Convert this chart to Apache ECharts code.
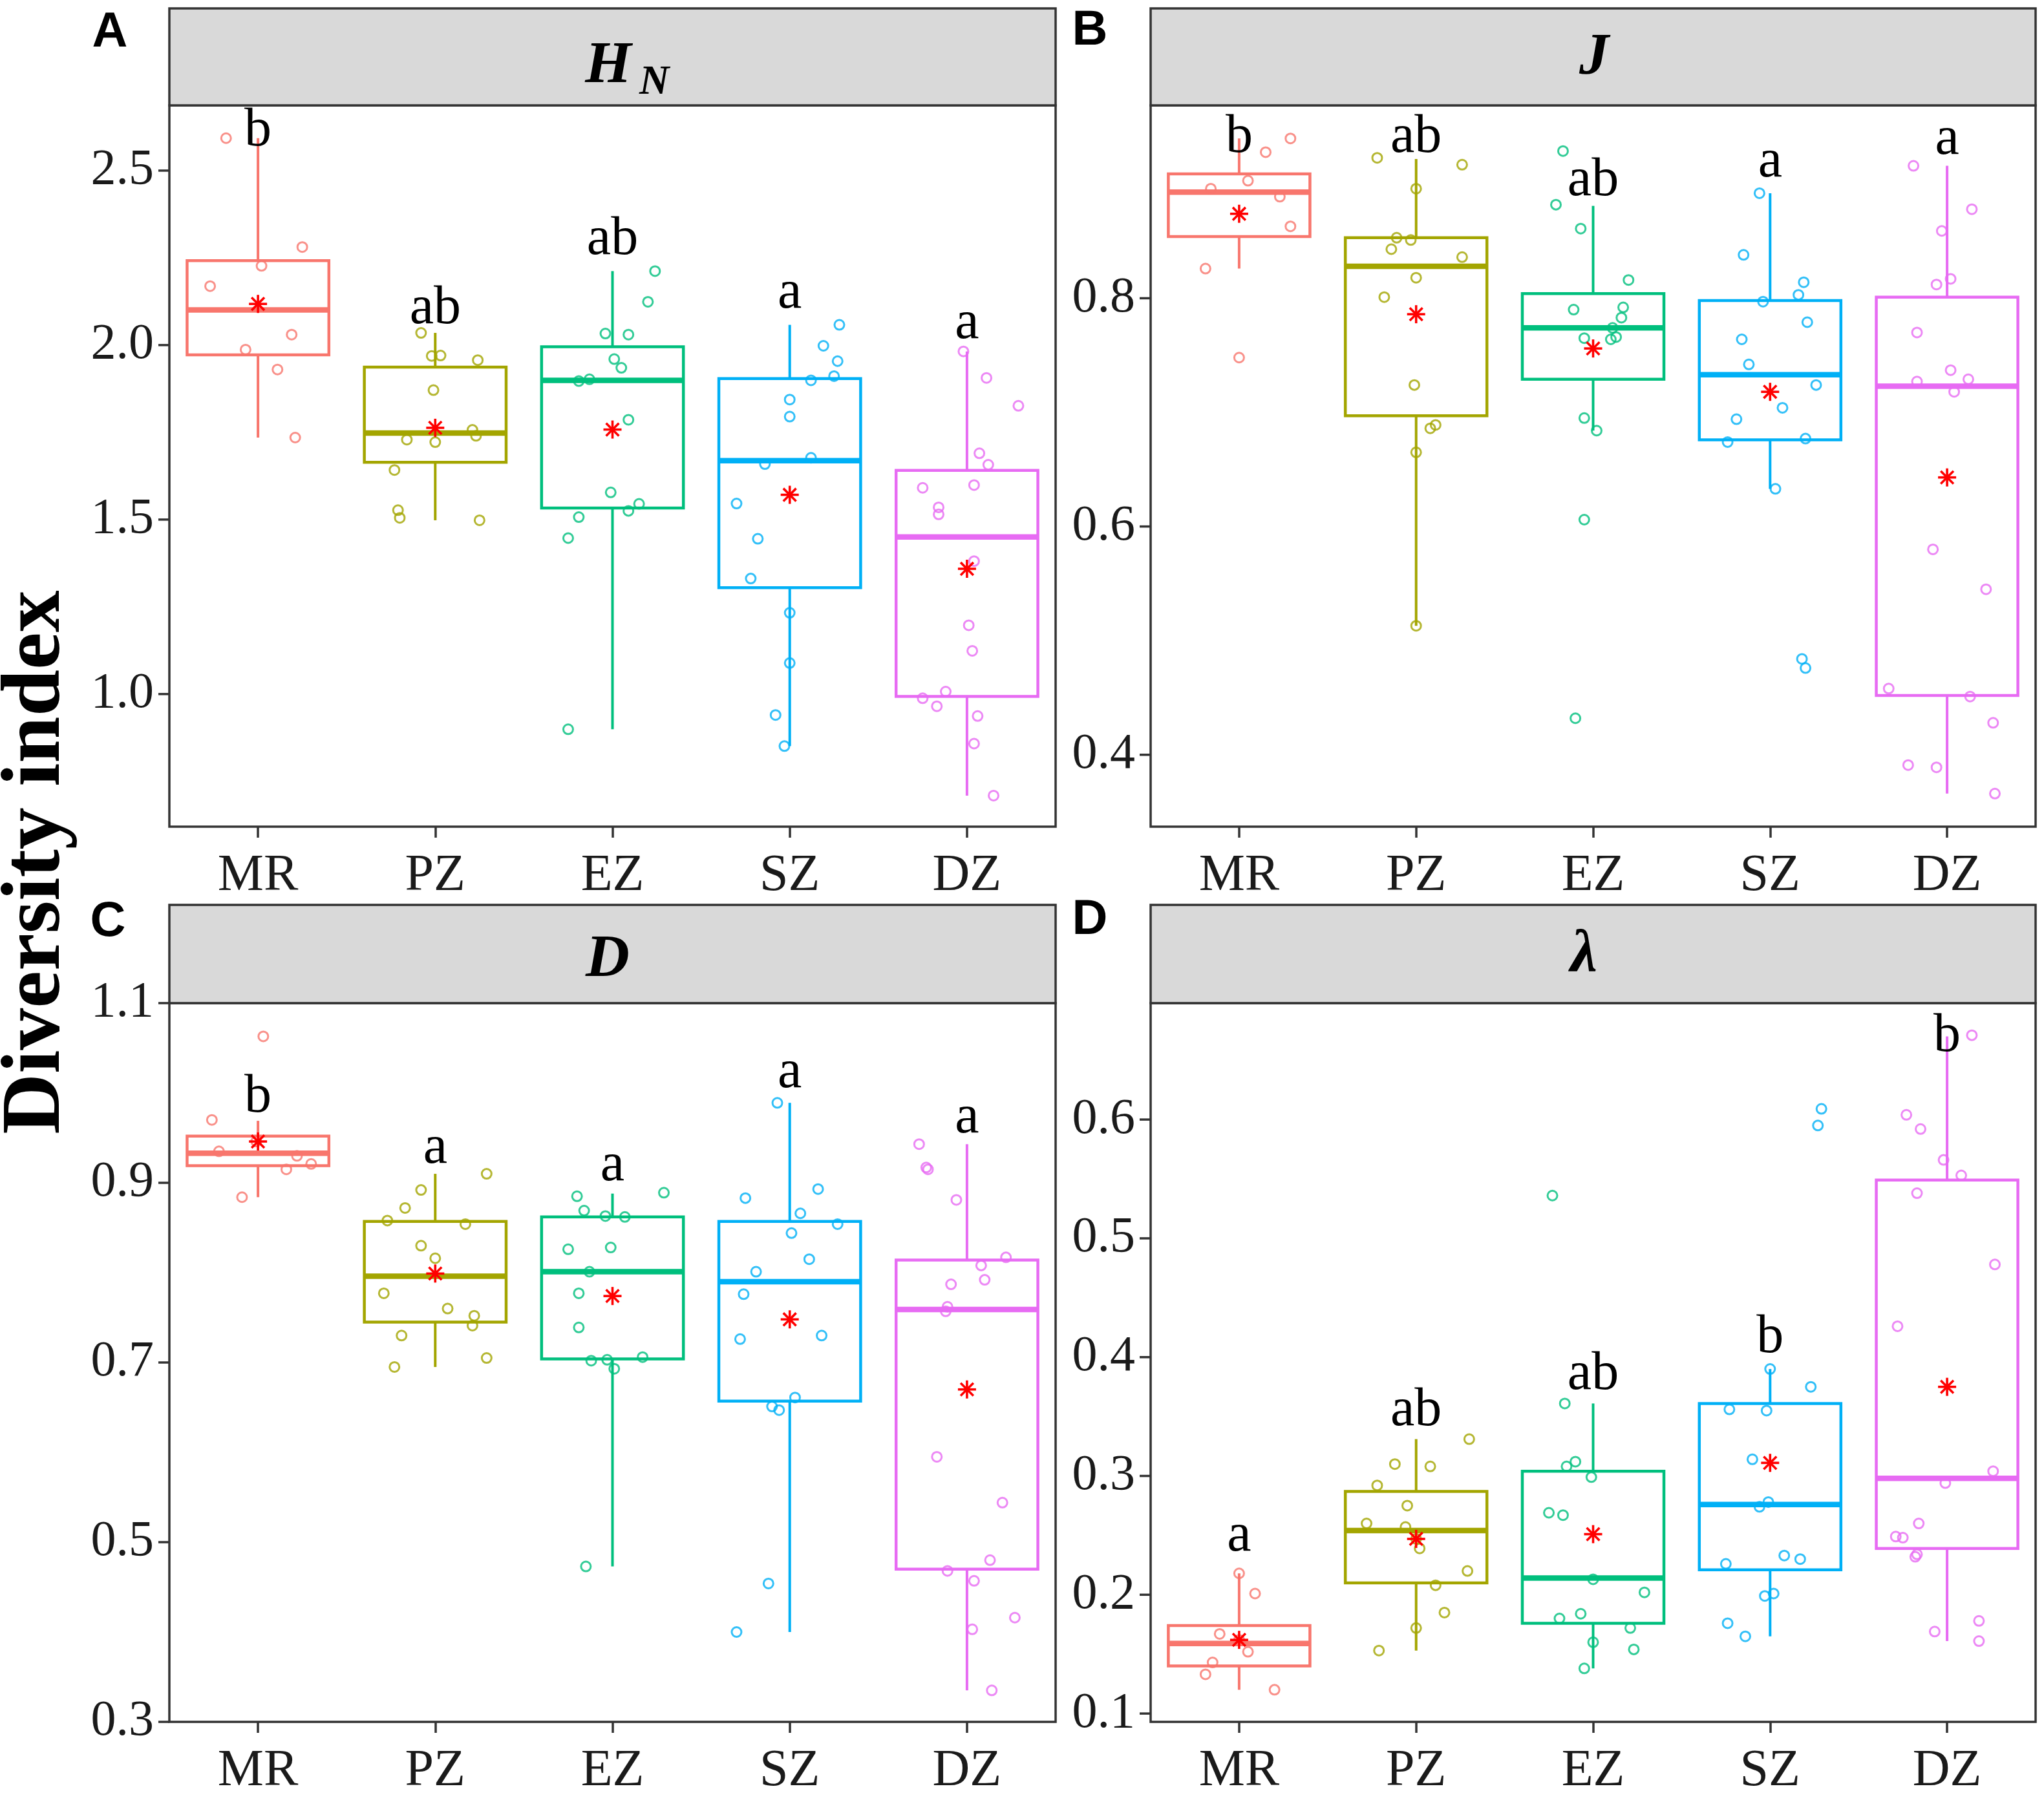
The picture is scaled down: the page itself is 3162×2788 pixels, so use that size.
<!DOCTYPE html>
<html><head><meta charset="utf-8">
<script src="https://cdn.jsdelivr.net/npm/echarts@6/dist/echarts.min.js"></script>
<style>html,body{margin:0;padding:0;background:#fff}#c{width:3162px;height:2788px}</style>
</head><body><div id="c"></div><script>
const categories = ['MR','PZ','EZ','SZ','DZ'];
const groupColors = ['#F8766D','#A3A500','#00BF7D','#00B0F6','#E76BF3'];

// ---- Panel A: H_N ----
const hnValues = [
  [2.593,2.281,2.227,2.169,2.030,1.987,1.930,1.735],
  [2.035,1.969,1.970,1.957,1.871,1.729,1.722,1.757,1.740,1.642,1.527,1.505,1.498],
  [2.212,2.124,2.033,2.030,1.960,1.935,1.897,1.902,1.786,1.578,1.507,1.525,1.545,1.447,0.899],
  [2.058,1.998,1.954,1.899,1.911,1.844,1.795,1.677,1.659,1.546,1.445,1.331,1.233,1.089,0.940,0.851],
  [1.982,1.906,1.826,1.690,1.657,1.599,1.591,1.535,1.515,1.381,1.197,1.124,0.988,0.965,1.007,0.937,0.858,0.709]
];
const hnJitter = [
  [-0.18,0.25,0.02,-0.27,0.19,-0.07,0.11,0.21],
  [-0.08,-0.02,0.03,0.24,-0.01,-0.16,0,0.21,0.23,-0.23,-0.21,-0.20,0.25],
  [0.24,0.2,-0.04,0.09,0.01,0.05,-0.19,-0.13,0.09,-0.01,-0.19,0.09,0.15,-0.25,-0.25],
  [0.28,0.19,0.27,0.12,0.25,0,0,0.12,-0.14,-0.30,-0.18,-0.22,0,0,-0.08,-0.03],
  [-0.02,0.11,0.29,0.07,0.12,0.04,-0.25,-0.16,-0.16,0.04,0.01,0.03,-0.25,-0.17,-0.12,0.06,0.04,0.15]
];
const hnBox = [[1.735,1.972,2.101,2.242,2.593],[1.498,1.664,1.748,1.937,2.035],[0.899,1.533,1.899,1.995,2.212],[0.851,1.305,1.669,1.904,2.058],[0.709,0.993,1.450,1.641,1.982]];
const hnMean = [2.118,1.763,1.758,1.571,1.359];
const hnLetters = ['b','ab','ab','a','a'];
const hnLetterY = [2.613,2.104,2.301,2.149,2.061];
const hnTicks = [1.0,1.5,2.0,2.5];
const hnRange = [0.62,2.687];

// ---- Panel B: J ----
const jValues = [
  [0.940,0.928,0.903,0.896,0.889,0.863,0.826,0.748],
  [0.923,0.917,0.896,0.853,0.851,0.843,0.836,0.818,0.801,0.724,0.686,0.689,0.665,0.513],
  [0.929,0.882,0.861,0.816,0.790,0.792,0.783,0.774,0.765,0.764,0.766,0.695,0.684,0.606,0.432],
  [0.892,0.838,0.814,0.803,0.797,0.779,0.764,0.742,0.724,0.704,0.694,0.674,0.677,0.633,0.484,0.476],
  [0.916,0.878,0.859,0.817,0.812,0.770,0.737,0.727,0.729,0.718,0.580,0.545,0.458,0.451,0.428,0.391,0.389,0.366]
];
const jJitter = [
  [0.29,0.15,0.05,-0.16,0.23,0.29,-0.19,0],
  [-0.22,0.26,0,-0.11,-0.03,-0.14,0.26,0,-0.18,-0.01,0.08,0.11,0,0],
  [-0.17,-0.21,-0.07,0.2,-0.11,0.17,0.16,0.11,-0.05,0.1,0.13,-0.05,0.02,-0.05,-0.1],
  [-0.06,-0.15,0.19,0.16,-0.04,0.21,-0.16,-0.12,0.26,0.07,-0.19,-0.24,0.2,0.03,0.18,0.2],
  [-0.19,0.14,-0.03,0.02,-0.06,-0.17,0.02,-0.17,0.12,0.04,-0.08,0.22,-0.33,0.13,0.26,-0.22,-0.06,0.27]
];
const jBox = [[0.826,0.854,0.893,0.909,0.940],[0.513,0.697,0.828,0.853,0.922],[0.684,0.729,0.774,0.804,0.881],[0.633,0.676,0.733,0.798,0.892],[0.366,0.452,0.723,0.801,0.916]];
const jMean = [0.874,0.786,0.756,0.718,0.643];
const jLetters = ['b','ab','ab','a','a'];
const jLetterY = [0.941,0.941,0.903,0.919,0.939];
const jTicks = [0.4,0.6,0.8];
const jRange = [0.337,0.969];

// ---- Panel C: D ----
const dValues = [
  [1.063,0.970,0.935,0.930,0.921,0.915,0.884,0.946],
  [0.910,0.892,0.872,0.858,0.854,0.830,0.816,0.777,0.760,0.752,0.741,0.730,0.705,0.695],
  [0.885,0.889,0.869,0.863,0.862,0.826,0.828,0.801,0.777,0.739,0.702,0.703,0.693,0.706,0.473],
  [0.989,0.893,0.883,0.866,0.854,0.844,0.815,0.801,0.776,0.726,0.730,0.661,0.651,0.647,0.454,0.400],
  [0.943,0.917,0.915,0.881,0.817,0.808,0.792,0.787,0.762,0.757,0.595,0.544,0.480,0.468,0.457,0.416,0.403,0.335]
];
const dJitter = [
  [0.03,-0.26,-0.22,0.22,0.3,0.16,-0.09,-0.01],
  [0.29,-0.08,-0.17,-0.27,0.17,-0.08,0,-0.29,0.07,0.22,0.21,-0.19,0.29,-0.23],
  [-0.2,0.29,-0.16,-0.04,0.07,-0.25,-0.01,-0.13,-0.19,-0.19,-0.12,-0.03,0.01,0.17,-0.15],
  [-0.07,0.16,-0.25,0.06,0.27,0.01,0.11,-0.19,-0.26,-0.28,0.18,0.03,-0.1,-0.06,-0.12,-0.3],
  [-0.27,-0.23,-0.22,-0.06,0.22,0.08,0.1,-0.09,-0.11,-0.12,-0.17,0.2,0.13,-0.11,0.04,0.27,0.03,0.14]
];
const dBox = [[0.884,0.919,0.933,0.952,0.969],[0.695,0.745,0.796,0.857,0.910],[0.473,0.704,0.801,0.862,0.888],[0.400,0.657,0.790,0.857,0.989],[0.335,0.470,0.759,0.814,0.943]];
const dMean = [0.946,0.799,0.774,0.748,0.670];
const dLetters = ['b','a','a','a','a'];
const dLetterY = [0.995,0.938,0.919,1.022,0.972];
const dTicks = [0.3,0.5,0.7,0.9,1.1];
const dRange = [0.3,1.1];

// ---- Panel D: lambda ----
const lamValues = [
  [0.218,0.201,0.167,0.152,0.143,0.133,0.120,0.162],
  [0.331,0.310,0.308,0.292,0.275,0.260,0.257,0.239,0.220,0.208,0.185,0.172,0.153,0.247],
  [0.536,0.361,0.308,0.312,0.299,0.269,0.267,0.213,0.202,0.184,0.180,0.172,0.160,0.154,0.138],
  [0.609,0.595,0.390,0.375,0.356,0.355,0.314,0.278,0.274,0.233,0.230,0.226,0.201,0.199,0.176,0.165],
  [0.671,0.604,0.592,0.566,0.553,0.538,0.478,0.426,0.304,0.294,0.260,0.249,0.248,0.234,0.232,0.178,0.169,0.161]
];
const lamJitter = [
  [0,0.09,-0.11,0.05,-0.15,-0.19,0.2,0],
  [0.3,-0.12,0.08,-0.22,-0.05,-0.28,-0.06,0.02,0.29,0.11,0.16,0,-0.21,0],
  [-0.23,-0.16,-0.15,-0.1,-0.01,-0.25,-0.17,0,0.29,-0.07,-0.19,0.21,0,0.23,-0.05],
  [0.29,0.27,0,0.23,-0.23,-0.02,-0.1,-0.01,-0.06,0.08,0.17,-0.25,0.02,-0.03,-0.24,-0.14],
  [0.14,-0.23,-0.15,-0.02,0.08,-0.17,0.27,-0.28,0.26,-0.01,-0.16,-0.29,-0.25,-0.17,-0.18,0.18,-0.07,0.18]
];
const lamBox = [[0.120,0.140,0.159,0.174,0.218],[0.153,0.210,0.254,0.287,0.331],[0.138,0.176,0.214,0.304,0.361],[0.165,0.221,0.276,0.361,0.390],[0.161,0.239,0.298,0.549,0.670]];
const lamMean = [0.162,0.247,0.251,0.311,0.375];
const lamLetters = ['a','ab','ab','b','b'];
const lamLetterY = [0.249,0.355,0.385,0.416,0.670];
const lamTicks = [0.1,0.2,0.3,0.4,0.5,0.6];
const lamRange = [0.093,0.698];

// ---- layout ----
const panels = [
  {values:hnValues, jitter:hnJitter, box:hnBox, mean:hnMean, letters:hnLetters, letterY:hnLetterY, ticks:hnTicks, range:hnRange, left:262, top:163, width:1371, height:1116},
  {values:jValues, jitter:jJitter, box:jBox, mean:jMean, letters:jLetters, letterY:jLetterY, ticks:jTicks, range:jRange, left:1780, top:163, width:1369, height:1116},
  {values:dValues, jitter:dJitter, box:dBox, mean:dMean, letters:dLetters, letterY:dLetterY, ticks:dTicks, range:dRange, left:262, top:1552, width:1371, height:1112},
  {values:lamValues, jitter:lamJitter, box:lamBox, mean:lamMean, letters:lamLetters, letterY:lamLetterY, ticks:lamTicks, range:lamRange, left:1780, top:1552, width:1369, height:1112}
];

const SERIF = "'Liberation Serif','Times New Roman',serif";
const SANS = "'Liberation Sans',Arial,sans-serif";
const INK = '#1a1a1a';

const grids = [], xAxes = [], yAxes = [], series = [];
panels.forEach((p, i) => {
  grids.push({left:p.left, top:p.top, width:p.width, height:p.height, show:true, borderColor:'#333', borderWidth:3.5, backgroundColor:'#fff'});
  xAxes.push({type:'category', gridIndex:i, data:categories, boundaryGap:true,
    axisLine:{show:false}, splitLine:{show:false},
    axisTick:{show:true, alignWithLabel:true, length:17, lineStyle:{color:'#333', width:3.5}},
    axisLabel:{margin:37, fontSize:80, fontFamily:SERIF, color:INK}});
  xAxes.push({type:'value', gridIndex:i, min:-0.5, max:4.5, show:false});
  yAxes.push({type:'value', gridIndex:i, min:p.range[0], max:p.range[1],
    axisLine:{show:false}, splitLine:{show:false}, axisTick:{show:false},
    axisLabel:{margin:24, fontSize:78, fontFamily:SERIF, color:INK, customValues:p.ticks, formatter:v => Number(v).toFixed(1)}});
  const xv = 2*i+1;
  // y-axis tick marks at the labelled values
  series.push({type:'custom', xAxisIndex:xv, yAxisIndex:i, z:6, clip:false, silent:true,
    data:p.ticks.map(v=>[-0.5, v]),
    renderItem:function(params, api){
      const c = api.coord([api.value(0), api.value(1)]);
      return {type:'line', shape:{x1:c[0]-17, y1:c[1], x2:c[0], y2:c[1]}, style:{stroke:'#333', lineWidth:3.5}};
    }});
  // boxes
  series.push({type:'custom', xAxisIndex:xv, yAxisIndex:i, z:2, silent:true,
    data:p.box.map((b,k)=>[k].concat(b)),
    renderItem:function(params, api){
      const x = api.value(0);
      const c = groupColors[params.dataIndex];
      const lo = api.coord([x, api.value(1)]), q1 = api.coord([x, api.value(2)]),
            md = api.coord([x, api.value(3)]), q3 = api.coord([x, api.value(4)]), hi = api.coord([x, api.value(5)]);
      const w = api.size([0.8, 0])[0];
      return {type:'group', children:[
        {type:'line', shape:{x1:hi[0], y1:hi[1], x2:q3[0], y2:q3[1]}, style:{stroke:c, lineWidth:4}},
        {type:'line', shape:{x1:q1[0], y1:q1[1], x2:lo[0], y2:lo[1]}, style:{stroke:c, lineWidth:4}},
        {type:'rect', shape:{x:q3[0]-w/2, y:q3[1], width:w, height:q1[1]-q3[1]}, style:{fill:'#fff', stroke:c, lineWidth:4.5}},
        {type:'line', shape:{x1:md[0]-w/2, y1:md[1], x2:md[0]+w/2, y2:md[1]}, style:{stroke:c, lineWidth:8.5}}
      ]};
    }});
  // jittered points
  const pts = [];
  p.values.forEach((arr, k) => arr.forEach((v, m) => {
    pts.push({value:[k + p.jitter[k][m], v], itemStyle:{color:'rgba(255,255,255,0)', borderColor:groupColors[k], borderWidth:3}});
  }));
  series.push({type:'scatter', xAxisIndex:xv, yAxisIndex:i, z:3, symbol:'circle', symbolSize:15, data:pts, silent:true});
  // means (asterisks)
  series.push({type:'custom', xAxisIndex:xv, yAxisIndex:i, z:4, silent:true,
    data:p.mean.map((v,k)=>[k, v]),
    renderItem:function(params, api){
      const c = api.coord([api.value(0), api.value(1)]);
      const r = 14, ch = [];
      for (let a = 0; a < 4; a++) {
        const t = a*Math.PI/4;
        ch.push({type:'line', shape:{x1:c[0]-r*Math.cos(t), y1:c[1]-r*Math.sin(t), x2:c[0]+r*Math.cos(t), y2:c[1]+r*Math.sin(t)}, style:{stroke:'#FF0000', lineWidth:3.6}});
      }
      return {type:'group', children:ch};
    }});
  // letters
  series.push({type:'custom', xAxisIndex:xv, yAxisIndex:i, z:5, silent:true,
    data:p.letterY.map((v,k)=>[k, v]),
    renderItem:function(params, api){
      const c = api.coord([api.value(0), api.value(1)]);
      return {type:'text', x:c[0], y:c[1], style:{text:p.letters[params.dataIndex], fontSize:84, fontFamily:SERIF, fill:'#000', align:'center', verticalAlign:'middle'}};
    }});
});

function strip(x, y, w, h){ return {type:'rect', shape:{x:x, y:y, width:w, height:h}, style:{fill:'#D9D9D9', stroke:'#333', lineWidth:3.5}, z:1}; }
function txt(x, y, s, size, weight, style, family, extra){
  return Object.assign({type:'text', x:x, y:y, style:{text:s, fontSize:size, fontWeight:weight, fontStyle:style, fontFamily:family, fill:'#000', align:'center', verticalAlign:'middle'}, z:10}, extra||{});
}

const graphics = [
  strip(262, 13, 1371, 150), strip(1780, 13, 1369, 150), strip(262, 1400, 1371, 152), strip(1780, 1400, 1369, 152),
  txt(941, 103, 'H', 92, 'bold', 'italic', SERIF),
  txt(1012, 128, 'N', 64, 'bold', 'italic', SERIF),
  txt(2466, 90, 'J', 92, 'bold', 'italic', SERIF),
  txt(940, 1486, 'D', 94, 'bold', 'italic', SERIF),
  txt(2450, 1478, 'λ', 94, 'bold', 'italic', SERIF),
  txt(170, 51, 'A', 76, 'bold', 'normal', SANS),
  txt(1686, 48, 'B', 76, 'bold', 'normal', SANS),
  txt(167, 1427, 'C', 76, 'bold', 'normal', SANS),
  txt(1686, 1424, 'D', 76, 'bold', 'normal', SANS),
  txt(57, 1334, 'Diversity index', 130, 'bold', 'normal', SERIF, {rotation:Math.PI/2})
];

const chart = echarts.init(document.getElementById('c'), null, {renderer:'canvas'});
chart.setOption({
  animation:false,
  backgroundColor:'#fff',
  grid:grids, xAxis:xAxes, yAxis:yAxes, series:series,
  graphic:graphics
});
</script></body></html>
